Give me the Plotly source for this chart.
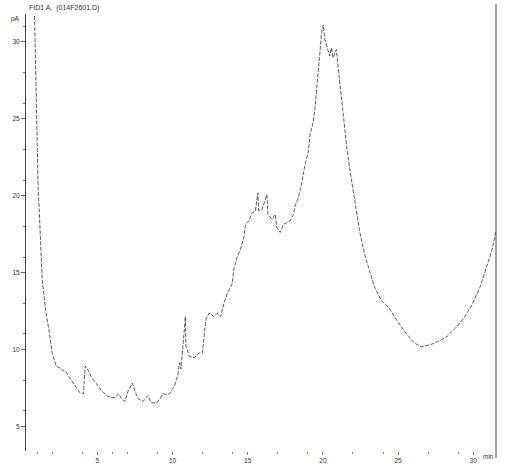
import plotly.graph_objects as go

# Retention time (min) and detector signal (pA)
time_min = [0.82, 0.89, 0.93, 0.96, 1.00, 1.02, 1.06, 1.13, 1.17, 1.22, 1.29, 1.33, 1.44, 1.55,
            1.77, 1.99, 2.25, 2.58, 2.72, 2.87, 3.20, 3.63, 3.81, 4.08, 4.19, 4.29, 4.62, 4.95,
            5.28, 5.61, 5.94, 6.19, 6.39, 6.60, 6.83, 7.05, 7.33, 7.49, 7.70, 8.03, 8.36, 8.58,
            8.91, 9.18, 9.35, 9.57, 9.80, 10.13, 10.34, 10.46, 10.56, 10.79, 10.85, 10.89, 11.11,
            11.44, 11.77, 11.99, 12.10, 12.21, 12.43, 12.76, 12.98, 13.20, 13.42, 13.64, 13.97,
            14.08, 14.30, 14.52, 14.74, 14.85, 15.07, 15.29, 15.51, 15.67, 15.73, 15.95, 16.28,
            16.34, 16.61, 16.83, 16.94, 17.16, 17.38, 17.60, 17.82, 18.04, 18.15, 18.37, 18.59,
            18.81, 19.03, 19.14, 19.36, 19.47, 19.58, 19.69, 19.80, 19.91, 20.02, 20.13, 20.35,
            20.46, 20.57, 20.68, 20.79, 20.90, 21.01, 21.12, 21.23, 21.34, 21.45, 21.60, 21.78,
            22.00, 22.22, 22.44, 22.77, 23.10, 23.43, 23.87, 24.42, 24.97, 25.52, 26.07, 26.56,
            27.17, 27.72, 28.27, 28.82, 29.37, 29.92, 30.46, 30.91, 31.24, 31.52]
signal_pA = [31.67, 28.46, 26.60, 24.67, 23.19, 21.77, 20.42, 19.14, 17.92, 16.63, 15.54, 14.45, 13.61, 12.58,
             11.30, 9.78, 8.92, 8.75, 8.60, 8.60, 8.08, 7.44, 7.20, 7.12, 8.92, 8.81, 8.17, 7.76,
             7.31, 6.99, 6.88, 6.86, 7.12, 6.80, 6.61, 7.31, 7.81, 7.31, 6.80, 6.61, 6.99, 6.54,
             6.50, 6.80, 7.12, 7.06, 7.12, 7.63, 8.28, 9.13, 8.73, 11.38, 12.13, 10.21, 9.56,
             9.45, 9.77, 9.77, 10.66, 11.94, 12.35, 12.13, 12.35, 12.13, 12.99, 13.63, 14.27,
             15.24, 15.99, 16.52, 17.27, 18.13, 18.35, 18.88, 18.99, 20.17, 19.01, 19.09, 20.06,
             18.77, 18.45, 18.77, 17.92, 17.60, 18.13, 18.24, 18.35, 18.77, 19.33, 19.85, 20.81,
             21.99, 22.85, 23.91, 24.78, 25.63, 26.70, 27.99, 29.27, 30.56, 31.09, 30.13, 29.49,
             29.06, 29.60, 28.95, 29.27, 29.49, 28.41, 27.35, 26.27, 25.20, 24.13, 23.06, 21.77,
             20.28, 19.07, 17.71, 16.20, 15.13, 14.06, 13.21, 12.67, 11.81, 11.06, 10.42, 10.16,
             10.31, 10.53, 10.85, 11.38, 12.02, 12.89, 14.06, 15.35, 16.42, 17.71]

x_major_ticks = [5, 10, 15, 20, 25, 30]
x_minor_ticks = [1, 2, 4, 6, 7, 9, 12, 14, 17, 19, 22, 24, 27, 29]
y_major_ticks = [5, 10, 15, 20, 25, 30]
y_minor_ticks = [6, 8, 11, 13, 16, 18, 21, 23, 26, 28, 31]

title_text = "FID1 A,  (014F2601.D)"
y_unit = "pA"
x_unit = "min"

FONT = "Liberation Sans, Arial, sans-serif"
TXT = "#333333"

fig = go.Figure()
fig.add_trace(go.Scatter(
    x=time_min, y=signal_pA, mode="lines",
    line=dict(color="#333333", width=0.8, dash="4px,1.5px"),
    hoverinfo="skip", showlegend=False,
))

fig.update_layout(
    width=508, height=476,
    margin=dict(l=22, r=12, t=14, b=20, pad=0),
    paper_bgcolor="white", plot_bgcolor="white",
    font=dict(family=FONT, size=6.5, color=TXT),
    showlegend=False,
)

fig.update_xaxes(
    range=[0.251, 31.517],
    showgrid=False, zeroline=False, showline=False,
    tickmode="array", tickvals=x_major_ticks,
    ticks="outside", ticklen=3, tickwidth=1, tickcolor="#777777",
    tickfont=dict(size=6.5, color=TXT, family=FONT),
    minor=dict(tickmode="array", tickvals=x_minor_ticks, ticks="outside",
               ticklen=2, tickwidth=1, tickcolor="#888888"),
)
fig.update_yaxes(
    range=[3.393, 31.80],
    showgrid=False, zeroline=False,
    showline=True, linecolor="#444444", linewidth=1,
    tickmode="array", tickvals=y_major_ticks,
    ticks="outside", ticklen=4, tickwidth=1, tickcolor="#666666",
    tickfont=dict(size=6.5, color=TXT, family=FONT),
    minor=dict(tickmode="array", tickvals=y_minor_ticks, ticks="outside",
               ticklen=2, tickwidth=1, tickcolor="#777777"),
)

# right border line (extends slightly beyond the plot area)
fig.add_shape(type="line", xref="paper", yref="paper",
              x0=1, x1=1, y0=-0.0158, y1=1.0226,
              line=dict(color="#444444", width=1))

fig.add_annotation(text=title_text, xref="paper", yref="paper",
                   x=0.0015, y=1.0136, xanchor="left", yanchor="middle",
                   showarrow=False, font=dict(size=7, color=TXT, family=FONT))
fig.add_annotation(text=y_unit, xref="paper", yref="paper",
                   x=-0.0232, y=0.9887, xanchor="center", yanchor="middle",
                   showarrow=False, font=dict(size=6.5, color=TXT, family=FONT))
fig.add_annotation(text=x_unit, xref="paper", yref="paper",
                   x=0.985, y=-0.0136, xanchor="center", yanchor="middle",
                   showarrow=False, font=dict(size=6.5, color=TXT, family=FONT))

fig.write_html("out.html",
               config={"displayModeBar": False},
               post_script="document.body.style.margin='0px';document.body.style.overflow='hidden';")
